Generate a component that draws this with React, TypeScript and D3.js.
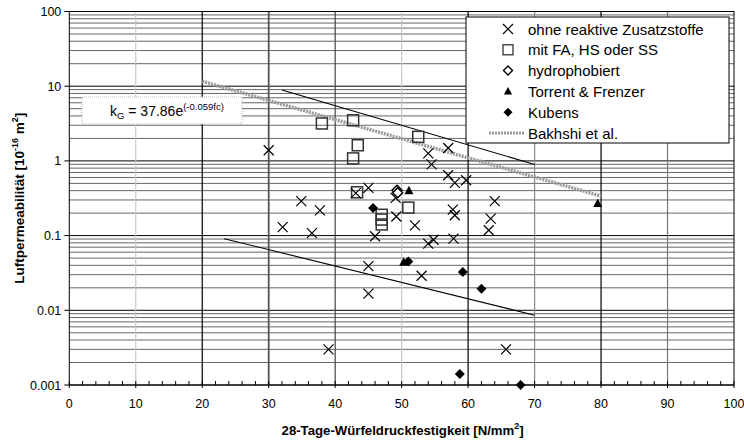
import * as d3 from "d3";

const W = 744;
const H = 442;
const M = { left: 69.3, right: 734, top: 11.5, bottom: 385 };

// ohne reaktive Zusatzstoffe
const crossX = [30.0, 32.1, 34.9, 36.5, 37.7, 39.0, 43.1, 45.0, 45.0, 45.0, 46.0, 49.1, 49.2, 52.0, 53.0, 54.0, 54.5, 54.0, 54.8, 57.0, 57.0, 58.0, 59.7, 57.7, 58.0, 57.8, 63.4, 63.1, 64.0, 65.7];
const crossY = [1.39, 0.13, 0.29, 0.108, 0.218, 0.003, 0.37, 0.435, 0.039, 0.0167, 0.098, 0.32, 0.18, 0.137, 0.029, 1.26, 0.9, 0.078, 0.088, 1.49, 0.643, 0.507, 0.551, 0.223, 0.187, 0.091, 0.169, 0.118, 0.29, 0.003];
// mit FA, HS oder SS
const squareX = [38.0, 42.7, 43.4, 42.7, 43.3, 47.0, 47.0, 47.0, 51.0, 52.5];
const squareY = [3.17, 3.5, 1.62, 1.08, 0.38, 0.19, 0.164, 0.141, 0.237, 2.1];
// hydrophobiert
const openDiamondX = [49.3, 49.4];
const openDiamondY = [0.405, 0.375];
// Torrent & Frenzer
const triangleX = [51.1, 50.3, 79.5];
const triangleY = [0.4, 0.044, 0.268];
// Kubens
const diamondX = [45.7, 51.0, 59.2, 62.0, 58.75, 67.9];
const diamondY = [0.234, 0.045, 0.0325, 0.0195, 0.0014, 0.001];

// lines
const upperLine = [[32, 8.9], [70, 0.895]];
const lowerLine = [[23.3, 0.091], [70, 0.0086]];
const bakhshiLine = [[20, 11.63], [80, 0.338]];

const xTicks = [0, 10, 20, 30, 40, 50, 60, 70, 80, 90, 100];
const yTicks = [0.001, 0.01, 0.1, 1, 10, 100];
const yTickLabels = ["0.001", "0.01", "0.1", "1", "10", "100"];
const legendLabels = ["ohne reaktive Zusatzstoffe", "mit FA, HS oder SS", "hydrophobiert", "Torrent & Frenzer", "Kubens", "Bakhshi et al."];

// shades of the vertical gridlines at 10..90 (as in the scan)
const vGridShade = ["#c8c8c8", "#000", "#555", "#444", "#c8c8c8", "#000", "#888", "#000", "#777"];

const FONT = "'Liberation Sans', Arial, sans-serif";

const x = d3.scaleLinear().domain([0, 100]).range([M.left, M.right]);
const y = d3.scaleLog().domain([0.001, 100]).range([M.bottom, M.top]);

const zip = (a: number[], b: number[]) => a.map((v, i) => [v, b[i]]);

const line = d3.line<number[]>().x((d) => x(d[0])).y((d) => y(d[1]));

const cross = (cx: number, cy: number, r = 5) =>
  `M${cx - r},${cy - r}L${cx + r},${cy + r}M${cx - r},${cy + r}L${cx + r},${cy - r}`;
const diamond = (cx: number, cy: number, r = 5) =>
  `M${cx},${cy - r}L${cx + r},${cy}L${cx},${cy + r}L${cx - r},${cy}Z`;
const triangle = (cx: number, cy: number, r = 5) =>
  `M${cx},${cy - r}L${cx + r * 0.9},${cy + r * 0.7}L${cx - r * 0.9},${cy + r * 0.7}Z`;

export default function App() {
  const minorY: number[] = [];
  for (let e = -3; e < 2; e++) {
    for (let k = 2; k <= 9; k++) minorY.push(k * Math.pow(10, e));
  }
  const minorX = d3.range(0, 101, 2).filter((v) => v % 10 !== 0);

  const lx = 466;
  const ly = 17;
  const rowY = (i: number) => 29 + i * 20.8;

  return (
    <svg width={W} height={H} style={{ position: "absolute", left: 0, top: 0, background: "#fff" }} fontFamily={FONT}>
      {/* horizontal grid */}
      {minorY.map((v) => (
        <line key={"my" + v} x1={M.left} x2={M.right} y1={y(v)} y2={y(v)} stroke="#555" strokeWidth={0.9} />
      ))}
      {yTicks.map((v) => (
        <line key={"gy" + v} x1={M.left} x2={M.right} y1={y(v)} y2={y(v)} stroke="#000" strokeWidth={1} />
      ))}
      {/* vertical grid */}
      {xTicks.slice(1, -1).map((v, i) => (
        <line key={"gx" + v} x1={x(v)} x2={x(v)} y1={M.top} y2={M.bottom} stroke={vGridShade[i]} strokeWidth={v === 30 ? 1.8 : 1.2} />
      ))}
      <rect x={M.left} y={M.top} width={M.right - M.left} height={M.bottom - M.top} fill="none" stroke="#000" strokeWidth={1} />

      {/* y axis ticks */}
      {yTicks.map((v, i) => (
        <g key={"ty" + v}>
          <line x1={M.left - 5} x2={M.left} y1={y(v)} y2={y(v)} stroke="#000" />
          <text x={M.left - 8} y={y(v) + 4.5} textAnchor="end" fontSize={12.5}>
            {yTickLabels[i]}
          </text>
        </g>
      ))}
      {/* x axis ticks */}
      {minorX.map((v) => (
        <line key={"mx" + v} x1={x(v)} x2={x(v)} y1={M.bottom - 4} y2={M.bottom} stroke="#000" />
      ))}
      {xTicks.map((v) => (
        <g key={"tx" + v}>
          <line x1={x(v)} x2={x(v)} y1={M.bottom - 4} y2={M.bottom + 3} stroke="#000" />
          <text x={x(v)} y={M.bottom + 22.5} textAnchor="middle" fontSize={12.5}>
            {v}
          </text>
        </g>
      ))}

      {/* lines */}
      <path d={line(upperLine) ?? ""} stroke="#000" strokeWidth={1.1} fill="none" />
      <path d={line(lowerLine) ?? ""} stroke="#000" strokeWidth={1.1} fill="none" />
      <path d={line(bakhshiLine) ?? ""} stroke="#9a9a9a" strokeWidth={3.5} strokeDasharray="2,1" fill="none" />

      {/* markers */}
      {zip(squareX, squareY).map((d, i) => (
        <rect key={"s" + i} x={x(d[0]) - 5.5} y={y(d[1]) - 5.5} width={11} height={11} fill="none" stroke="#333" strokeWidth={1.5} />
      ))}
      {zip(crossX, crossY).map((d, i) => (
        <path key={"c" + i} d={cross(x(d[0]), y(d[1]))} stroke="#000" strokeWidth={1.2} fill="none" />
      ))}
      {zip(openDiamondX, openDiamondY).map((d, i) => (
        <path key={"od" + i} d={diamond(x(d[0]), y(d[1]), 5)} stroke="#000" strokeWidth={1.5} fill="#fff" />
      ))}
      {zip(triangleX, triangleY).map((d, i) => (
        <path key={"t" + i} d={triangle(x(d[0]), y(d[1]), 5)} fill="#000" />
      ))}
      {zip(diamondX, diamondY).map((d, i) => (
        <path key={"d" + i} d={diamond(x(d[0]), y(d[1]), 5)} fill="#000" />
      ))}

      {/* formula box */}
      <rect x={82} y={97} width={160} height={27} fill="#fff" stroke="#bbb" strokeWidth={1} strokeDasharray="1,1" />
      <text x={110} y={116} fontSize={14}>
        <tspan>k</tspan>
        <tspan fontSize={9.5} dy={3}>G</tspan>
        <tspan dy={-3}> = 37.86e</tspan>
        <tspan fontSize={9.5} dy={-6}>(-0.059fc)</tspan>
      </text>

      {/* legend */}
      <rect x={lx} y={ly} width={263} height={126} fill="#fff" stroke="#000" strokeWidth={1} />
      {legendLabels.map((t, i) => (
        <text key={"l" + i} x={528} y={rowY(i) + 5.5} fontSize={15}>
          {t}
        </text>
      ))}
      <path d={cross(508, rowY(0), 5)} stroke="#000" strokeWidth={1.2} fill="none" />
      <rect x={503} y={rowY(1) - 5} width={10} height={10} fill="none" stroke="#222" strokeWidth={1.2} />
      <path d={diamond(508, rowY(2), 4.5)} stroke="#000" strokeWidth={1.4} fill="#fff" />
      <path d={triangle(508, rowY(3), 4.5)} fill="#000" />
      <path d={diamond(508, rowY(4), 4.5)} fill="#000" />
      <line x1={489} x2={524} y1={rowY(5)} y2={rowY(5)} stroke="#9a9a9a" strokeWidth={3} strokeDasharray="2,1" />

      {/* axis titles */}
      <text x={(M.left + M.right) / 2 + 1} y={435} textAnchor="middle" fontSize={13.2} fontWeight="bold">
        28-Tage-Würfeldruckfestigkeit [N/mm
        <tspan fontSize={9} dy={-6}>2</tspan>
        <tspan dy={6}>]</tspan>
      </text>
      <text transform={`translate(24, ${(M.top + M.bottom) / 2}) rotate(-90)`} textAnchor="middle" fontSize={13.5} fontWeight="bold">
        Luftpermeabilität [10
        <tspan fontSize={9} dy={-6}>-16</tspan>
        <tspan dy={6}> m</tspan>
        <tspan fontSize={9} dy={-6}>2</tspan>
        <tspan dy={6}>]</tspan>
      </text>
    </svg>
  );
}
